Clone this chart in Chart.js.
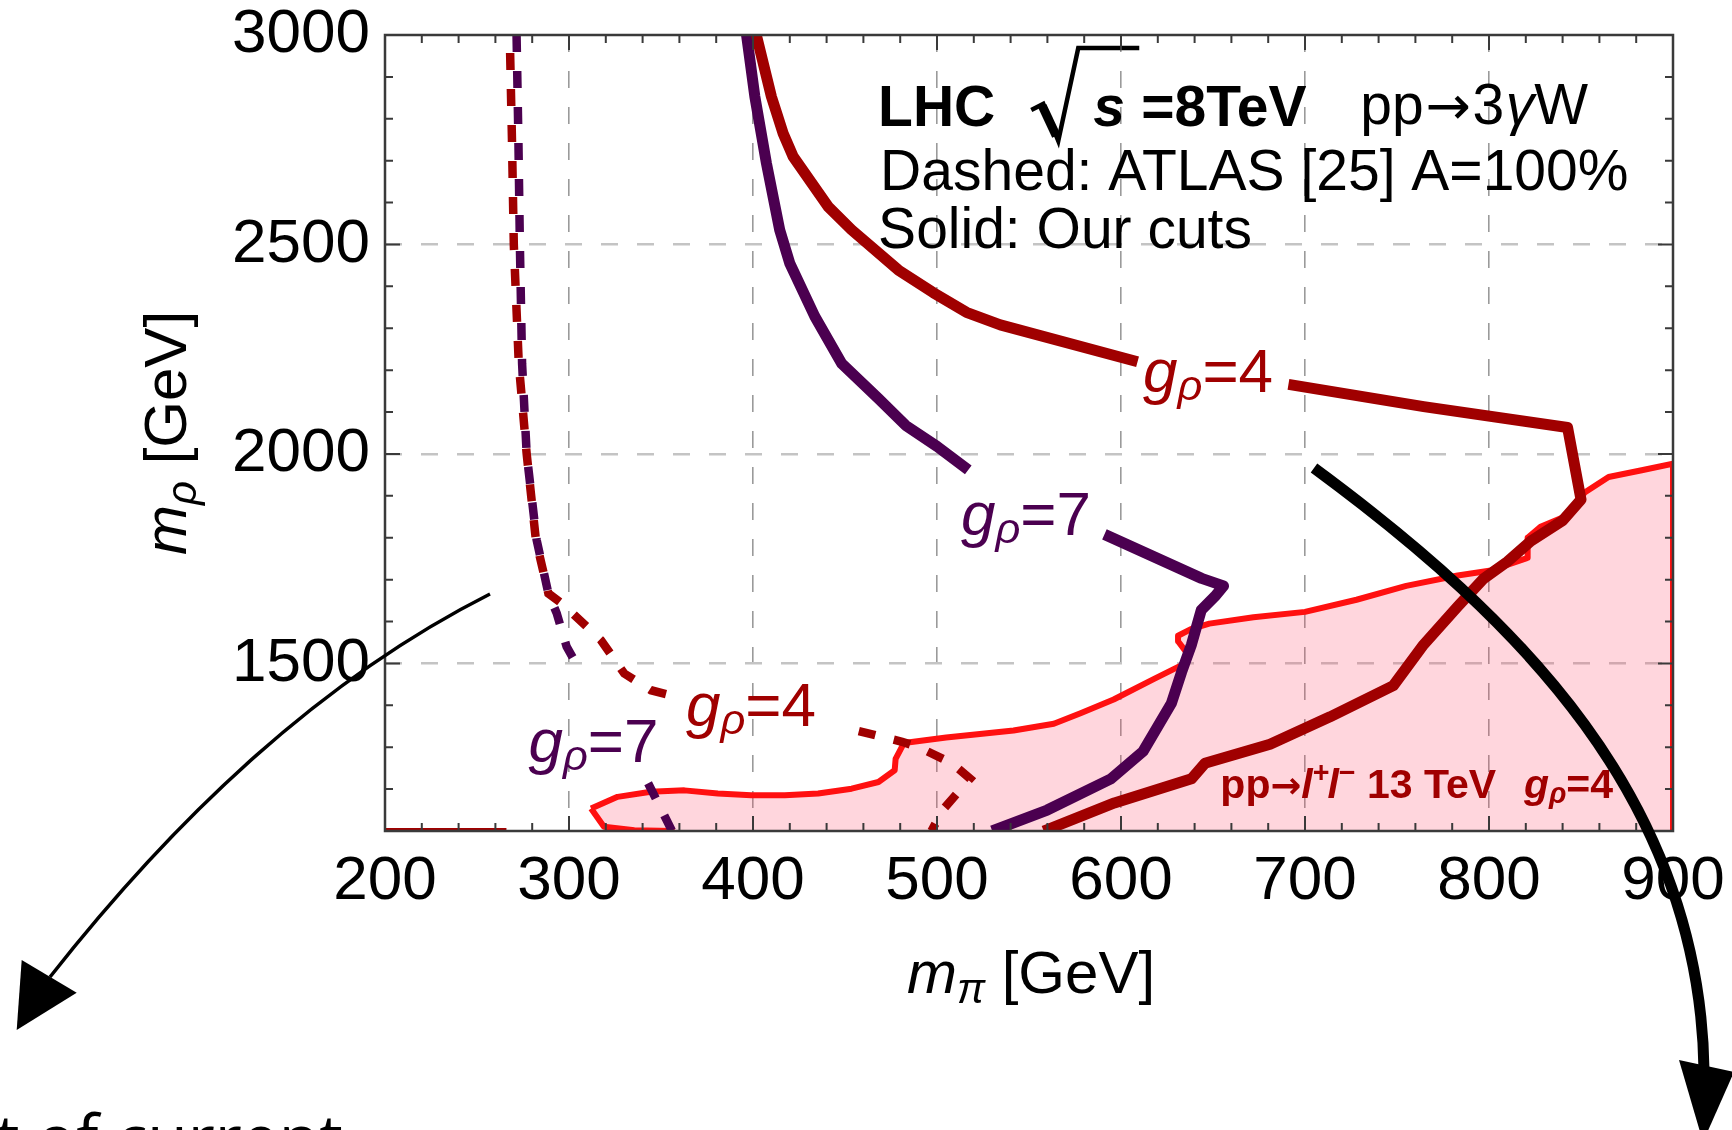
<!DOCTYPE html>
<html>
<head>
<meta charset="utf-8">
<title>m_pi vs m_rho limits</title>
<script src="https://cdn.jsdelivr.net/npm/chart.js@4.4.1/dist/chart.umd.min.js"></script>
<style>
  html, body { margin: 0; padding: 0; background: #fff; overflow: hidden; }
  #wrap { position: relative; width: 1732px; height: 1130px; }
  #overlay { position: absolute; left: 0; top: 0; pointer-events: none; }
</style>
</head>
<body>
<div id="wrap">
  <canvas id="chart"></canvas>
  <svg id="overlay" width="1732" height="1130" xmlns="http://www.w3.org/2000/svg">
    <!-- thin arrow, lower left -->
    <path d="M 490 594 Q 260 710 50 977" fill="none" stroke="#000" stroke-width="3.5"/>
    <polygon points="21.7,960 76.7,992.7 16.7,1030" fill="#000"/>
    <!-- thick arrow, right -->
    <path d="M 1314 468 C 1520 620, 1700 800, 1704 1070" fill="none" stroke="#000" stroke-width="11"/>
    <polygon points="1679,1060 1734,1072 1703,1142" fill="#000"/>
    <text x="-4" y="1162" font-family="'Open Sans', 'Noto Sans', sans-serif" font-size="66" fill="#000">t of current</text>
  </svg>
</div>
<script>
// axis ranges and ticks (GeV)
const xRange = [200, 900];
const yRange = [1100, 3000];
const xTickValues = [200, 300, 400, 500, 600, 700, 800, 900];
const yTickValues = [1500, 2000, 2500, 3000];
const xMinorStep = 20;
const yMinorStep = 100;

// ATLAS dashed contours (A = 100%); null marks the break under a label
const g4AtlasDashed = [
  [267.8, 3000], [269, 2750], [270, 2500], [272.7, 2216], [277, 2000], [282, 1795],
  [288.8, 1667], [297, 1640], [317.3, 1556], [330, 1476], [344.5, 1436], [359, 1420],
  null,
  [448, 1349], [481, 1313], [490, 1300], [508, 1262], [518, 1225], [512, 1195],
  [503, 1150], [497, 1100]
];
const g4AtlasEdge = [[200, 1100], [266, 1100]];
const g7AtlasDashed = [
  [271.5, 3000], [272.5, 2750], [273.3, 2500], [274.5, 2216], [277, 2000], [282.4, 1795],
  [288.8, 1667], [293.3, 1620], [298.7, 1540], [307, 1476],
  null,
  [343, 1214], [356, 1100]
];

// solid contours with our cuts
const g4CutsSolid = [
  [401.8, 3000], [410, 2853], [416.4, 2765], [421.8, 2710], [440.9, 2590], [453.6, 2535],
  [479, 2439], [498, 2385], [516, 2338], [534.4, 2308], [609, 2220],
  null,
  [691, 2166], [764.5, 2113], [842.7, 2063], [850, 1891], [840, 1841], [822.7, 1792],
  [810, 1743], [797, 1702], [783, 1636], [764.5, 1545], [748, 1447], [713.6, 1372.5],
  [681, 1307], [645.6, 1261.5], [638.3, 1224.5], [596.4, 1167], [558, 1100]
];
const g7CutsSolid = [
  [396.5, 3000], [401, 2853], [407.3, 2694], [414.5, 2535], [420, 2455], [433.6, 2328],
  [448.2, 2216], [468, 2133], [483, 2068], [500, 2018], [517, 1962],
  null,
  [591, 1808], [643.8, 1703], [655.7, 1685], [651, 1660], [643.6, 1627], [638.3, 1545],
  [632.9, 1479], [627.4, 1405], [612, 1290], [594.5, 1224.5], [559.9, 1150], [530, 1100]
];

// pp -> l+ l- 13 TeV excluded region (closed outline, runs below the frame on purpose)
const llExcluded = [
  [312, 1153.6], [319, 1110], [335.5, 1102], [356, 1100], [360, 1080], [900, 1080],
  [900, 1977], [883, 1961], [865, 1945], [852, 1908], [841, 1850], [828, 1826],
  [821, 1800], [821, 1752], [801, 1722], [783, 1710], [755, 1685], [728, 1652],
  [700, 1623], [672, 1610], [648, 1595], [638, 1582], [631, 1566], [631, 1553],
  [636.5, 1521], [633, 1496], [618, 1463], [596, 1414], [578, 1381], [563.5, 1356],
  [541.6, 1340], [505, 1323], [482, 1310], [477.5, 1272], [477, 1245], [468.2, 1217],
  [453.6, 1201], [435.4, 1189.5], [417.3, 1185.5], [399, 1185.5], [380.9, 1189.5],
  [362.7, 1197], [344.5, 1193.5], [326.4, 1181.5], [312, 1153.6]
];

const FONT = '"Liberation Sans", Arial, Helvetica, sans-serif';
const ARROW_FONT = '"DejaVu Sans", sans-serif';
const DARK_RED = '#a00000';
const PURPLE = '#4b0050';
const BRIGHT_RED = '#ff1010';

const toXY = arr => arr.map(p => (p ? {x: p[0], y: p[1]} : {x: null, y: null}));

// contour labels, anchored at left end / baseline in data units
const curveLabels = [
  {n: '4', x: 612, y: 2148, color: DARK_RED},
  {n: '7', x: 513, y: 1806, color: PURPLE},
  {n: '7', x: 278, y: 1265, color: PURPLE},
  {n: '4', x: 363.6, y: 1350, color: DARK_RED}
];

function setFont(ctx, p, size) {
  const s = size * (p.scale || 1);
  ctx.font = (p.italic ? 'italic ' : '') + (p.bold ? 'bold ' : '') + s + 'px ' + (p.family || FONT);
}

// draw a run of styled pieces left to right, returns the end x
function drawRuns(ctx, parts, x, y, size, color) {
  for (const p of parts) {
    setFont(ctx, p, size);
    ctx.fillStyle = p.color || color;
    x += (p.pre || 0) * size;
    ctx.fillText(p.t, x, y + (p.dy || 0) * size);
    x += ctx.measureText(p.t).width + (p.post || 0) * size;
  }
  return x;
}

function runsWidth(ctx, parts, size) {
  let w = 0;
  for (const p of parts) {
    setFont(ctx, p, size);
    w += ctx.measureText(p.t).width + ((p.pre || 0) + (p.post || 0)) * size;
  }
  return w;
}

const gRho = (n, bold) => [
  {t: 'g', italic: true, bold},
  {t: 'ρ', italic: true, bold, scale: 0.7, dy: 0.13},
  {t: '=' + n, bold}
];

const annotations = {
  id: 'annotations',
  afterDatasetsDraw(chart) {
    const {ctx, chartArea: a, scales: {x, y}} = chart;
    ctx.save();
    ctx.textBaseline = 'alphabetic';
    ctx.textAlign = 'left';

    // contour labels
    for (const l of curveLabels) {
      drawRuns(ctx, gRho(l.n, false), x.getPixelForValue(l.x), y.getPixelForValue(l.y), 62, l.color);
    }

    // dilepton label inside the shaded region
    drawRuns(ctx, [
      {t: 'pp'},
      {t: '→', family: ARROW_FONT, scale: 0.9},
      {t: 'l', italic: true},
      {t: '+', scale: 0.7, dy: -0.38},
      {t: 'l', italic: true, pre: -0.05},
      {t: '−', scale: 0.7, dy: -0.38},
      {t: ' 13 TeV '},
      {t: 'g', italic: true, pre: 0.4},
      {t: 'ρ', italic: true, scale: 0.7, dy: 0.13},
      {t: '=4'}
    ].map(p => Object.assign({bold: true}, p)), x.getPixelForValue(654), y.getPixelForValue(1179), 41, DARK_RED);

    // header block
    const hx = x.getPixelForValue(468);
    const b1 = y.getPixelForValue(2783);
    const b2 = y.getPixelForValue(2630);
    const b3 = y.getPixelForValue(2492);
    let cx = drawRuns(ctx, [{t: 'LHC', bold: true}], hx, b1, 57, '#000');
    const rx = cx + 36;
    ctx.strokeStyle = '#000';
    ctx.lineJoin = 'miter';
    ctx.lineWidth = 4.5;
    ctx.beginPath();
    ctx.moveTo(rx, b1 - 16);
    ctx.lineTo(rx + 12, b1 - 22);
    ctx.lineTo(rx + 27, b1 + 15);
    ctx.lineTo(rx + 47, b1 - 78);
    ctx.lineTo(rx + 108, b1 - 78);
    ctx.stroke();
    ctx.lineWidth = 9;
    ctx.beginPath();
    ctx.moveTo(rx + 11, b1 - 20);
    ctx.lineTo(rx + 25, b1 + 10);
    ctx.stroke();
    drawRuns(ctx, [{t: 's', bold: true, italic: true}], rx + 62, b1, 57, '#000');
    drawRuns(ctx, [{t: '=8TeV', bold: true}], rx + 110, b1, 57, '#000');
    drawRuns(ctx, [
      {t: 'pp'},
      {t: '→', family: ARROW_FONT, scale: 0.95, pre: 0.03, post: 0.03},
      {t: '3'},
      {t: 'γ', italic: true, pre: 0.03},
      {t: 'W'}
    ], rx + 329, b1 - 2, 57, '#000');
    drawRuns(ctx, [{t: 'Dashed: ATLAS [25] A=100%'}], hx + 2, b2, 57, '#000');
    drawRuns(ctx, [{t: 'Solid: Our cuts'}], hx, b3, 57, '#000');

    // frame with inward ticks
    ctx.strokeStyle = '#3a3a3a';
    ctx.lineWidth = 2;
    ctx.setLineDash([]);
    ctx.beginPath();
    for (let v = xRange[0]; v <= xRange[1]; v += xMinorStep) {
      const px = x.getPixelForValue(v);
      const len = v % 100 === 0 ? 15 : 8;
      ctx.moveTo(px, a.bottom); ctx.lineTo(px, a.bottom - len);
      ctx.moveTo(px, a.top); ctx.lineTo(px, a.top + len);
    }
    for (let v = yRange[0]; v <= yRange[1]; v += yMinorStep) {
      const py = y.getPixelForValue(v);
      const len = v % 500 === 0 ? 15 : 8;
      ctx.moveTo(a.left, py); ctx.lineTo(a.left + len, py);
      ctx.moveTo(a.right, py); ctx.lineTo(a.right - len, py);
    }
    ctx.stroke();
    ctx.lineWidth = 2.5;
    ctx.strokeRect(a.left, a.top, a.right - a.left, a.bottom - a.top);
    ctx.restore();
  },
  afterDraw(chart) {
    const {ctx, chartArea: a} = chart;
    ctx.save();
    ctx.textBaseline = 'alphabetic';
    // x axis title
    const xt = [{t: 'm', italic: true}, {t: 'π', italic: true, scale: 0.7, dy: 0.17}, {t: ' [GeV]'}];
    const xw = runsWidth(ctx, xt, 60);
    drawRuns(ctx, xt, (a.left + a.right) / 2 - xw / 2 + 2, 993, 60, '#000');
    // y axis title, rotated
    const yt = [{t: 'm', italic: true}, {t: 'ρ', italic: true, scale: 0.7, dy: 0.17}, {t: ' [GeV]'}];
    const yw = runsWidth(ctx, yt, 60);
    ctx.translate(186, 433);
    ctx.rotate(-Math.PI / 2);
    drawRuns(ctx, yt, -yw / 2, 0, 60, '#000');
    ctx.restore();
  }
};

const line = (data, color, width, extra) => Object.assign({
  data: toXY(data),
  showLine: true,
  borderColor: color,
  borderWidth: width,
  pointRadius: 0,
  pointHoverRadius: 0,
  pointHitRadius: 0,
  fill: false,
  tension: 0,
  borderJoinStyle: 'round'
}, extra || {});

new Chart(document.getElementById('chart'), {
  type: 'scatter',
  data: {
    datasets: [
      line(g4CutsSolid, DARK_RED, 11, {label: 'g4 our cuts', order: 1}),
      line(g7CutsSolid, PURPLE, 11, {label: 'g7 our cuts', order: 2}),
      line(g4AtlasDashed, DARK_RED, 8.5, {label: 'g4 ATLAS', order: 3, borderDash: [17, 19], borderDashOffset: 18, borderJoinStyle: 'miter'}),
      line(g7AtlasDashed, PURPLE, 8.5, {label: 'g7 ATLAS', order: 4, borderDash: [17, 19], borderJoinStyle: 'miter'}),
      line(g4AtlasEdge, DARK_RED, 6, {label: 'g4 ATLAS edge', order: 5}),
      line(llExcluded, BRIGHT_RED, 6, {label: 'pp→l+l− 13 TeV', order: 6, fill: 'shape', backgroundColor: 'rgba(255, 70, 100, 0.22)', clip: 0})
    ]
  },
  options: {
    responsive: true,
    maintainAspectRatio: false,
    animation: false,
    events: [],
    layout: {padding: {top: 35, right: 59, left: 0, bottom: 0}},
    plugins: {legend: {display: false}, tooltip: {enabled: false}},
    scales: {
      x: {
        type: 'linear',
        min: xRange[0],
        max: xRange[1],
        afterBuildTicks: s => { s.ticks = xTickValues.map(v => ({value: v})); },
        afterFit: s => { s.height = 299; s.paddingLeft = 0; s.paddingRight = 0; },
        ticks: {
          autoSkip: false,
          maxRotation: 0,
          padding: 20,
          color: '#000',
          font: {family: FONT, size: 62, lineHeight: 1},
          callback: v => String(v)
        },
        grid: {
          drawTicks: false,
          lineWidth: 1.6,
          color: c => (c.tick && (c.tick.value === xRange[0] || c.tick.value === xRange[1])) ? 'transparent' : '#9a9a9a'
        },
        border: {display: false, dash: [17, 19]}
      },
      y: {
        type: 'linear',
        min: yRange[0],
        max: yRange[1],
        afterBuildTicks: s => { s.ticks = yTickValues.map(v => ({value: v})); },
        afterFit: s => { s.width = 385; s.paddingTop = 0; s.paddingBottom = 0; },
        ticks: {
          padding: 15,
          color: '#000',
          font: {family: FONT, size: 62, lineHeight: 1},
          callback: v => String(v)
        },
        grid: {
          drawTicks: false,
          lineWidth: 2.5,
          color: c => (c.tick && c.tick.value === yRange[1]) ? 'transparent' : '#c4c4c4'
        },
        border: {display: false, dash: [17, 19]}
      }
    }
  },
  plugins: [annotations]
});
</script>
</body>
</html>
